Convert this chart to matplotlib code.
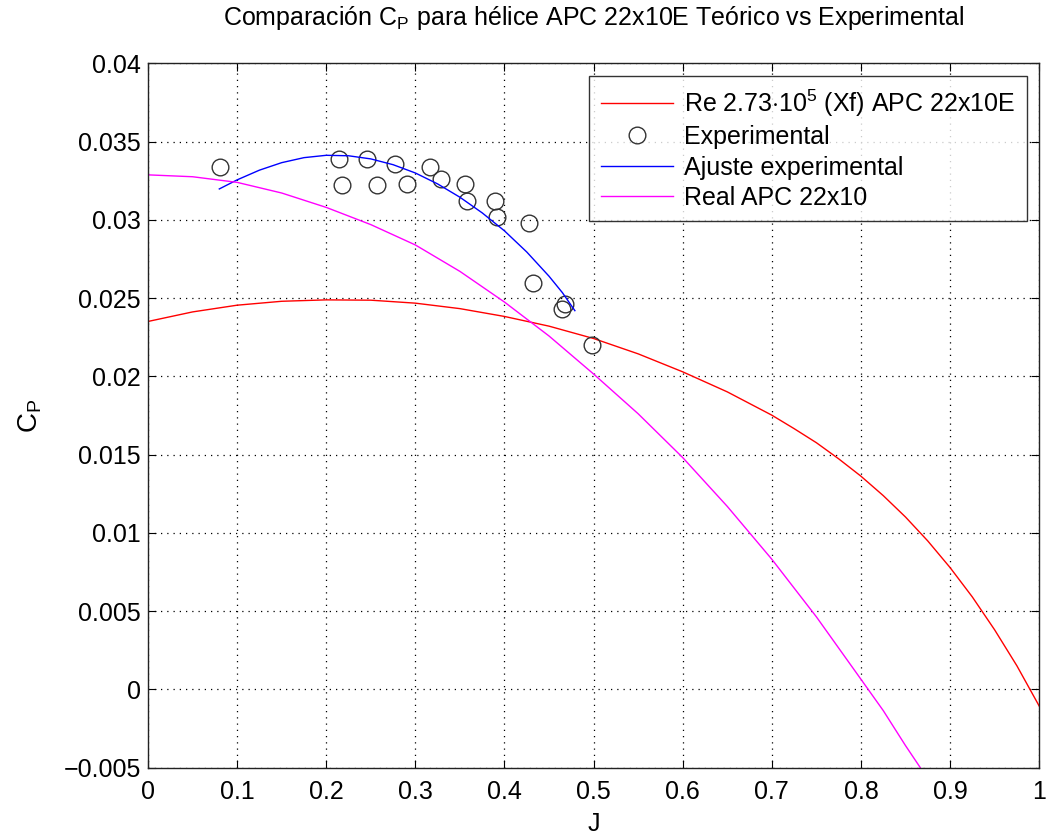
import matplotlib
matplotlib.use("Agg")
import matplotlib.pyplot as plt

plt.rcParams['font.family'] = ['Liberation Sans', 'DejaVu Sans']
plt.rcParams['mathtext.fontset'] = 'custom'
plt.rcParams['mathtext.rm'] = 'Liberation Sans'
plt.rcParams['mathtext.it'] = 'Liberation Sans'

# Theoretical curve (Xfoil), Re 2.73e5
J_xf = [0.0, 0.05, 0.1, 0.15, 0.2, 0.25, 0.3, 0.35, 0.4, 0.45, 0.5, 0.55, 0.6,
        0.65, 0.7, 0.725, 0.75, 0.775, 0.8, 0.825, 0.85, 0.875, 0.9, 0.925,
        0.95, 0.975, 1.0]
Cp_xf = [0.02351, 0.02412, 0.02455, 0.02480, 0.02489, 0.02487, 0.02468, 0.02433,
         0.02383, 0.02321, 0.02242, 0.02144, 0.02029, 0.01901, 0.01752, 0.01666,
         0.01576, 0.01473, 0.01362, 0.01238, 0.01101, 0.00948, 0.00778, 0.00590,
         0.00380, 0.00150, -0.00107]

# Experimental points
J_exp = [0.0806, 0.2140, 0.2178, 0.2459, 0.2571, 0.2772, 0.2907, 0.3161, 0.3289,
         0.3561, 0.3580, 0.3898, 0.3917, 0.4272, 0.4317, 0.4683, 0.4646, 0.4982]
Cp_exp = [0.0334, 0.0339, 0.0322, 0.0339, 0.0322, 0.0336, 0.0323, 0.0334, 0.0326,
          0.0323, 0.0312, 0.0312, 0.0302, 0.0298, 0.0260, 0.0246, 0.0243, 0.0220]

# Experimental fit
J_fit = [0.08, 0.1, 0.125, 0.15, 0.175, 0.2, 0.225, 0.25, 0.275, 0.3, 0.325, 0.35,
         0.375, 0.4, 0.425, 0.45, 0.465, 0.479]
Cp_fit = [0.03198, 0.03256, 0.03318, 0.03366, 0.03398, 0.03413, 0.03410, 0.03390,
          0.03353, 0.03300, 0.03230, 0.03145, 0.03045, 0.02930, 0.02795, 0.02640,
          0.02535, 0.02420]

# Real APC 22x10 data
J_real = [0.0, 0.05, 0.1, 0.15, 0.2, 0.25, 0.3, 0.35, 0.4, 0.45, 0.5, 0.55, 0.6,
          0.65, 0.7, 0.75, 0.8, 0.825, 0.85, 0.8665]
Cp_real = [0.03288, 0.03276, 0.03240, 0.03172, 0.03080, 0.02970, 0.02840, 0.02671,
           0.02475, 0.02258, 0.02015, 0.01761, 0.01481, 0.01169, 0.00831, 0.00463,
           0.00064, -0.00136, -0.00360, -0.00500]

labels = ['Re 2.73$\\cdot$10$^{5}$ (Xf) APC 22x10E', 'Experimental',
          'Ajuste experimental', 'Real APC 22x10']

fig = plt.figure(figsize=(10.46, 8.35), dpi=100)
ax = fig.add_axes([0.1415, 0.0808, 0.852, 0.8432])

ax.plot(J_xf, Cp_xf, color='#ff0000', lw=1.0, label=labels[0])
ax.plot(J_exp, Cp_exp, linestyle='none', marker='o', markersize=12,
        markerfacecolor='none', markeredgecolor='#333333', markeredgewidth=1.0,
        label=labels[1])
ax.plot(J_fit, Cp_fit, color='#0000ff', lw=1.0, label=labels[2])
ax.plot(J_real, Cp_real, color='#ff00ff', lw=1.0, label=labels[3])

ax.set_xlim(0, 1)
ax.set_ylim(-0.005, 0.04)
ax.set_xticks([0, 0.1, 0.2, 0.3, 0.4, 0.5, 0.6, 0.7, 0.8, 0.9, 1])
ax.set_xticklabels(['0', '0.1', '0.2', '0.3', '0.4', '0.5', '0.6', '0.7', '0.8', '0.9', '1'])
yt = [-0.005, 0, 0.005, 0.01, 0.015, 0.02, 0.025, 0.03, 0.035, 0.04]
ax.set_yticks(yt)
ax.set_yticklabels(['\u22120.005', '0', '0.005', '0.01', '0.015', '0.02', '0.025',
                    '0.03', '0.035', '0.04'])
ax.tick_params(axis='y', direction='in', length=6, width=0.8, right=True,
               labelsize=18, pad=5)
ax.tick_params(axis='x', direction='in', length=6, width=0.8, top=True,
               labelsize=18, pad=9)
ax.grid(True, color='black', linestyle=(0, (1, 4)), linewidth=0.9)
for s in ax.spines.values():
    s.set_linewidth(1.0)
    s.set_color('#222222')

ax.set_xlabel('J', fontsize=18, labelpad=6)
ax.set_ylabel('C$_\\mathregular{P}$', fontsize=20, labelpad=14)
ax.set_title('Comparación C$_\\mathregular{P}$ para hélice APC 22x10E Teórico vs Experimental',
             fontsize=18, pad=28)

leg = ax.legend(loc='upper right', fontsize=18, frameon=True, fancybox=False,
                edgecolor='black', handlelength=2.9, borderpad=0.45,
                labelspacing=0.26, handletextpad=0.45, borderaxespad=0.5)
leg.get_frame().set_linewidth(1.0)

fig.savefig('out.png', dpi=100)
